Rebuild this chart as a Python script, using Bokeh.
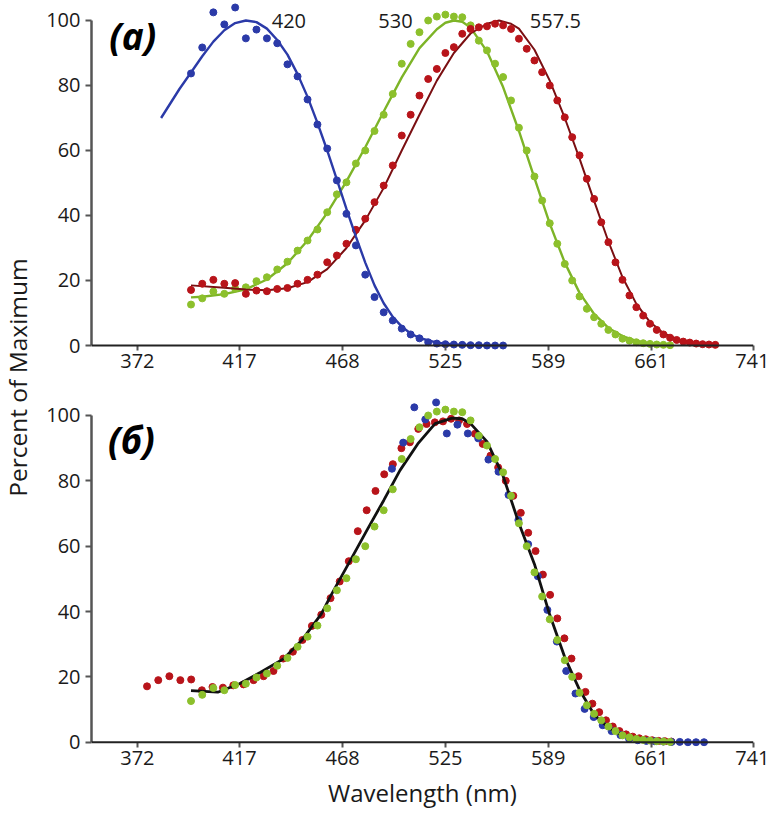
from math import pi
from bokeh.plotting import figure
from bokeh.layouts import row, column
from bokeh.models import Range1d, FixedTicker, Label, CustomJSTickFormatter, Span
from bokeh.embed import file_html
from bokeh.resources import INLINE

# ---------------- data ----------------
wl_blue = [395, 400, 405, 410, 415, 420, 425, 430, 435, 440, 445, 450, 455, 460, 465,
           470, 475, 480, 485, 490, 495, 500, 505, 510, 515, 520, 525, 530, 535, 540,
           545, 550, 555, 560]
pct_blue = [83.7, 91.7, 102.5, 98.8, 104.0, 94.5, 97.2, 94.5, 93.0, 86.5, 82.8, 75.7, 68.0,
            60.6, 50.8, 40.5, 30.8, 21.8, 14.9, 10.2, 7.7, 5.2, 3.4, 2.2, 1.0, 0.6, 0.4,
            0.3, 0.2, 0.1, 0.1, 0.0, 0.0, 0.0]

wl_green = [395, 400, 405, 410, 415, 420, 425, 430, 435, 440, 445, 450, 455, 460, 465,
            470, 475, 480, 485, 490, 495, 500, 505, 510, 515, 520, 525, 530, 535, 540,
            545, 550, 555, 560, 565, 570, 575, 580, 585, 590, 595, 600, 605, 610, 615,
            620, 625, 630, 635, 640, 645, 650, 655, 660, 665, 670, 675]
pct_green = [12.6, 14.5, 16.6, 15.9, 17.5, 17.9, 19.8, 21.0, 23.4, 25.8, 29.2, 32.3, 35.7,
             41.0, 46.5, 50.2, 56.0, 60.0, 66.0, 71.0, 77.4, 86.7, 92.8, 96.4, 100.0,
             101.2, 101.8, 101.2, 101.0, 98.5, 93.8, 90.8, 86.7, 82.6, 75.4, 67.0, 60.0,
             52.0, 44.6, 37.6, 31.3, 25.1, 20.0, 15.1, 11.3, 8.7, 6.7, 4.8, 3.4, 2.1, 1.5,
             1.0, 0.7, 0.5, 0.3, 0.2, 0.1]

wl_red = [395, 400, 405, 410, 415, 420, 425, 430, 435, 440, 445, 450, 455, 460, 465,
          470, 475, 480, 485, 490, 495, 500, 505, 510, 515, 520, 525, 530, 535, 540,
          545, 550, 555, 560, 565, 570, 575, 580, 585, 590, 595, 600, 605, 610, 615,
          620, 625, 630, 635, 640, 645, 650, 655, 660, 665, 670, 675, 680, 685, 690,
          695, 700, 705, 710]
pct_red = [17.1, 19.0, 20.2, 19.0, 19.2, 15.9, 16.9, 16.7, 17.4, 17.7, 19.0, 20.2, 21.8,
           25.6, 27.7, 31.3, 35.6, 39.0, 44.1, 49.2, 55.4, 64.6, 71.0, 76.9, 82.0, 85.1,
           90.0, 91.8, 95.9, 97.4, 97.9, 98.2, 99.0, 98.5, 97.4, 94.4, 91.3, 87.7, 84.1,
           80.0, 75.4, 70.2, 64.1, 58.5, 51.3, 45.1, 37.9, 31.8, 25.6, 20.2, 15.4, 11.8,
           9.2, 6.7, 4.8, 3.4, 2.4, 1.7, 1.2, 0.9, 0.6, 0.4, 0.3, 0.2]

# fitted curves
fit_blue_wl = [382, 390, 395, 400, 405, 410, 415, 420, 425, 430, 435, 440, 445, 450, 455,
               460, 465, 470, 475, 480, 485, 490, 495, 500, 505, 510, 520, 530, 545, 560]
fit_blue = [70.0, 79.0, 84.0, 89.0, 93.5, 97.0, 99.2, 100.0, 99.5, 97.5, 94.0, 89.5, 83.5,
            76.5, 68.5, 60.0, 51.0, 42.0, 33.5, 25.5, 18.5, 13.0, 8.8, 5.8, 3.7, 2.3, 0.9,
            0.3, 0.1, 0.0]

fit_green_wl = [395, 400, 410, 420, 430, 440, 450, 460, 470, 480, 490, 500, 510, 520, 525,
                530, 535, 540, 550, 560, 570, 580, 590, 600, 610, 620, 630, 640, 650, 660,
                670, 675]
fit_green = [14.8, 15.0, 15.8, 17.3, 20.3, 25.3, 32.3, 40.8, 50.5, 61.0, 72.0, 82.5, 91.5,
             97.3, 99.3, 100.0, 99.6, 97.8, 90.5, 79.5, 66.0, 51.5, 37.5, 25.5, 16.2, 9.7,
             5.4, 2.9, 1.4, 0.6, 0.2, 0.1]

fit_red_wl = [395, 410, 420, 430, 440, 450, 460, 470, 480, 490, 500, 510, 520, 530, 540,
              550, 557.5, 565, 570, 580, 590, 600, 610, 620, 630, 640, 650, 660, 670, 680,
              690, 700, 710]
fit_red = [18.5, 17.8, 17.2, 17.0, 17.6, 19.5, 23.5, 30.0, 38.5, 48.5, 60.0, 71.0, 81.5,
           90.0, 96.0, 99.0, 100.0, 99.0, 97.5, 91.0, 81.5, 70.0, 57.5, 44.5, 32.0, 21.0,
           12.8, 7.2, 3.8, 2.0, 1.0, 0.5, 0.2]

fit_black_wl = [395, 407, 417, 427, 438, 447, 457, 462, 472, 481, 490, 499, 509, 519, 529,
                535, 540, 550, 560, 570, 580, 590, 600, 610, 620, 630, 640, 650, 660, 670]
fit_black = [15.8, 15.3, 17.9, 21.4, 25.5, 31.1, 39.3, 45.0, 55.6, 65.0, 74.0, 83.2, 91.3,
             97.5, 99.2, 99.0, 97.5, 92.0, 81.5, 67.0, 54.5, 39.0, 26.0, 16.0, 8.5, 4.5,
             2.0, 1.0, 0.4, 0.1]

# horizontal scale factors applied to each series in panel (б)
shift_blue = 1.252
shift_green = 1.0
shift_red = 0.952

peak_labels = ["420", "530", "557.5"]
x_ticks = [372, 417, 468, 525, 589, 661, 741]
y_ticks = [0, 20, 40, 60, 80, 100]

# ---------------- styling ----------------
BLUE = "#2b3aa8"
GREEN = "#8cc02c"
GREEN_LINE = "#7db427"
RED = "#b8141a"
RED_LINE = "#7a0f12"
BLACK = "#111111"
FONT = "Open Sans"
TXT = "#1a1a1a"

X0, X1 = 353.4, 741.0
FW = 662          # frame width
LW = 34           # width of the strip holding the shared y title
LEFT, RIGHT = 91 - LW, 16


def style(p):
    p.grid.visible = False
    p.outline_line_color = None
    p.background_fill_color = "white"
    p.border_fill_color = "white"
    ya = p.yaxis[0]
    ya.ticker = FixedTicker(ticks=y_ticks)
    ya.bounds = (0, 100)
    ya.axis_line_color = "#555555"
    ya.axis_line_width = 2.5
    ya.major_tick_line_color = "#555555"
    ya.major_tick_line_width = 2
    ya.major_tick_out = 6
    ya.major_tick_in = 0
    ya.minor_tick_line_color = None
    ya.major_label_text_font = FONT
    ya.major_label_text_font_size = "20px"
    ya.major_label_text_color = TXT
    ya.major_label_standoff = 5
    xa = p.xaxis[0]
    xa.ticker = FixedTicker(ticks=x_ticks)
    xa.formatter = CustomJSTickFormatter(code="return Math.round(tick).toString();")
    xa.axis_line_color = None
    xa.major_tick_line_color = "#555555"
    xa.major_tick_line_width = 2
    xa.major_tick_out = 0
    xa.major_tick_in = 5
    xa.minor_tick_line_color = None
    xa.major_label_text_font = FONT
    xa.major_label_text_font_size = "20px"
    xa.major_label_text_color = TXT
    xa.major_label_standoff = 3
    p.add_layout(Span(location=0, dimension="width", line_color="#222222", line_width=2))


# ---------------- panel (a) ----------------
p1 = figure(frame_width=FW, frame_height=350, x_axis_type="log",
            x_range=Range1d(X0, X1), y_range=Range1d(-1.538, 106.15),
            min_border_left=LEFT, min_border_right=RIGHT, min_border_top=0,
            min_border_bottom=45, output_backend="svg", toolbar_location=None)
style(p1)

p1.line(fit_green_wl, fit_green, line_color=GREEN_LINE, line_width=2.4)
p1.scatter(wl_green, pct_green, size=7, color=GREEN)
p1.line(fit_red_wl, fit_red, line_color=RED_LINE, line_width=2.0)
p1.scatter(wl_red, pct_red, size=7, color=RED)
p1.line(fit_blue_wl, fit_blue, line_color=BLUE, line_width=2.4)
p1.scatter(wl_blue, pct_blue, size=7, color=BLUE)

for txt, xx in zip(peak_labels, [440.7, 496.5, 593.7]):
    p1.add_layout(Label(x=xx, y=99.7, text=txt, text_align="center", text_baseline="middle",
                        text_font=FONT, text_font_size="20px", text_color=TXT))
p1.add_layout(Label(x=360.5, y=95.3, text="(a)", text_align="left", text_baseline="middle",
                    text_font=FONT, text_font_size="37px", text_font_style="bold italic",
                    text_color="black"))

# ---------------- panel (б) ----------------
p2 = figure(frame_width=FW, frame_height=352, x_axis_type="log",
            x_range=Range1d(X0, X1), y_range=Range1d(-1.62, 106.12),
            min_border_left=LEFT, min_border_right=RIGHT, min_border_top=0,
            min_border_bottom=0, output_backend="svg", toolbar_location=None)
style(p2)
p2.xaxis.axis_label = "Wavelength (nm)"
p2.xaxis.axis_label_text_font = FONT
p2.xaxis.axis_label_text_font_size = "24px"
p2.xaxis.axis_label_text_font_style = "normal"
p2.xaxis.axis_label_text_color = TXT
p2.xaxis.axis_label_standoff = 8

p2.scatter([w * shift_red for w in wl_red], pct_red, size=7, color=RED)
p2.scatter([w * shift_blue for w in wl_blue], pct_blue, size=7, color=BLUE)
p2.line(fit_black_wl, fit_black, line_color=BLACK, line_width=2.8)
p2.scatter([w * shift_green for w in wl_green], pct_green, size=7, color=GREEN)

p2.add_layout(Label(x=360.0, y=92.5, text="(б)", text_align="left", text_baseline="middle",
                    text_font=FONT, text_font_size="37px", text_font_style="bold italic",
                    text_color="black"))

# ---------------- shared y title ----------------
pl = figure(width=LW, height=815, x_range=Range1d(0, LW), y_range=Range1d(0, 815),
            min_border=0, x_axis_location=None, y_axis_location=None,
            output_backend="svg", toolbar_location=None)
pl.grid.visible = False
pl.outline_line_color = None
pl.add_layout(Label(x=16.5, y=815 - 377, text="Percent of Maximum", angle=pi / 2,
                    text_align="center", text_baseline="middle", text_font=FONT,
                    text_font_size="24.5px", text_color=TXT))

layout = row(pl, column(p1, p2))
open("out.html", "w").write(file_html(layout, INLINE))
